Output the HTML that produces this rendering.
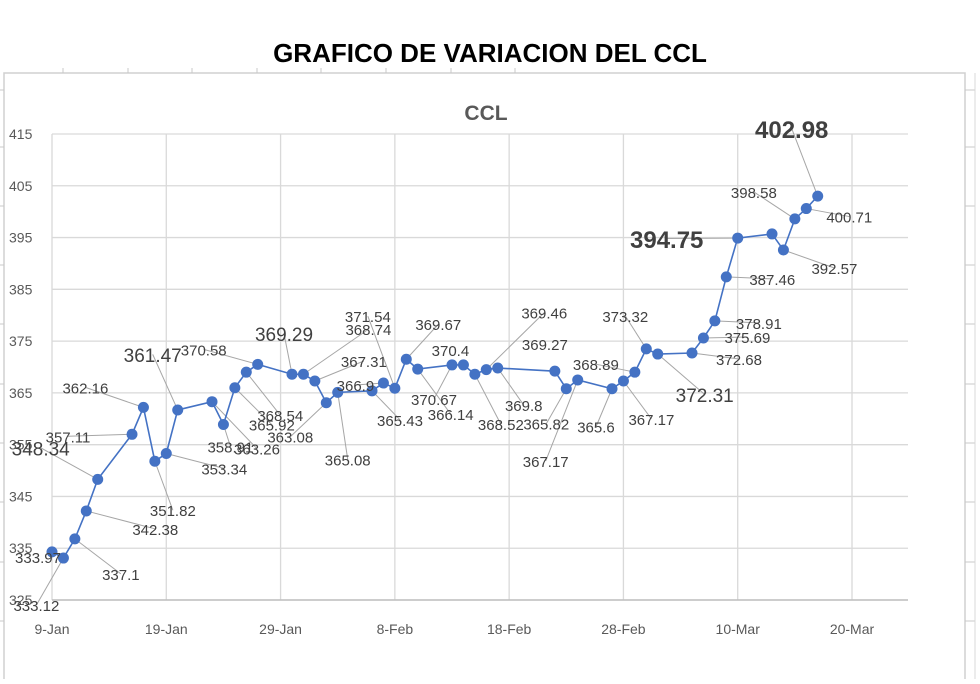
<!DOCTYPE html>
<html><head><meta charset="utf-8"><style>
html,body{margin:0;padding:0;background:#fff;}
body{width:980px;height:679px;overflow:hidden;font-family:"Liberation Sans",sans-serif;}
</style></head><body>
<svg id="chart" width="980" height="679" xmlns="http://www.w3.org/2000/svg" font-family="Liberation Sans, sans-serif">
<g id="frame"></g>
<text x="490" y="62" text-anchor="middle" font-size="26" font-weight="bold" fill="#000">GRAFICO DE VARIACION DEL CCL</text>
<text x="486" y="120" text-anchor="middle" font-size="21" font-weight="bold" fill="#595959">CCL</text>
<g id="grid"></g><g id="axes"></g><g id="leaders"></g><g id="series"></g><g id="labels"></g>
</svg>
<script>
const dates=["2023-01-09","2023-01-10","2023-01-11","2023-01-12","2023-01-13","2023-01-16","2023-01-17","2023-01-18","2023-01-19","2023-01-20","2023-01-23","2023-01-24","2023-01-25","2023-01-26","2023-01-27","2023-01-30","2023-01-31","2023-02-01","2023-02-02","2023-02-03","2023-02-06","2023-02-07","2023-02-08","2023-02-09","2023-02-10","2023-02-13","2023-02-14","2023-02-15","2023-02-16","2023-02-17","2023-02-22","2023-02-23","2023-02-24","2023-02-27","2023-02-28","2023-03-01","2023-03-02","2023-03-03","2023-03-06","2023-03-07","2023-03-08","2023-03-09","2023-03-10","2023-03-13","2023-03-14","2023-03-15","2023-03-16","2023-03-17"];
const values=[334.3,333.1,336.8,342.2,348.3,357.0,362.2,351.8,353.3,361.7,363.3,358.9,366.0,369.0,370.5,368.6,368.6,367.3,363.1,365.1,365.4,366.9,365.9,371.5,369.6,370.4,370.4,368.6,369.5,369.8,369.2,365.8,367.5,365.8,367.3,369.0,373.5,372.5,372.7,375.6,378.9,387.4,394.9,395.7,392.6,398.6,400.6,403.0];
const labelTexts=["333.97","333.12","337.1","342.38","348.34","357.11","362.16","351.82","353.34","361.47","363.26","358.91","365.92","368.54","370.58","369.29","368.74","367.31","363.08","365.08","365.43","366.9","371.54","369.67","366.14","370.67","370.4","368.52","369.46","369.8","369.27","365.82","367.17","365.6","367.17","368.89","373.32","372.31","372.68","375.69","378.91","387.46","394.75","","392.57","398.58","400.71","402.98"];
const labelDx=[-14,-27,46,69,-57,-64,-58,18,58,-25,45,7,37,34,-54,-8,65,49,-36,10,28,-28,-27,32,33,-18,-13,26,58,26,-10,-20,-32,-16,28,-39,-21,47,47,44,44,46,-71,0,51,-41,43,-26];
const labelDy=[11,53,41,24,-24,8,-14,55,21,-48,53,28,43,49,-9,-33,-39,-14,40,73,35,8,-66,-29,51,40,-9,56,-51,43,-21,41,87,44,44,-2,-27,48,12,5,8,8,10,0,24,-21,14,-58];
const bigLabels=[4,9,15,37];
const boldLabels=[42,47];
const yTicks=[325,335,345,355,365,375,385,395,405,415];
const xTickDates=["2023-01-09","2023-01-19","2023-01-29","2023-02-08","2023-02-18","2023-02-28","2023-03-10","2023-03-20"];
const xTickLabels=["9-Jan","19-Jan","29-Jan","8-Feb","18-Feb","28-Feb","10-Mar","20-Mar"];

const NS="http://www.w3.org/2000/svg";
const D0=Date.UTC(2023,0,9), DAY=86400000;
function dayOf(s){const p=s.split("-");return (Date.UTC(+p[0],+p[1]-1,+p[2])-D0)/DAY;}
function X(s){return 52+dayOf(s)*(800/70);}
function Y(v){return 600-(v-325)*(466/90);}
function mk(tag,attrs,parent){const e=document.createElementNS(NS,tag);for(const k in attrs)e.setAttribute(k,attrs[k]);parent.appendChild(e);return e;}

const frame=document.getElementById("frame");
mk("rect",{x:4,y:73,width:961,height:610,fill:"none",stroke:"#d0d0d0","stroke-width":1.5},frame);
[63,128,192,257,321,386,451,515].forEach(x=>mk("line",{x1:x,y1:68,x2:x,y2:73,stroke:"#c8c8c8"},frame));
[90,147,206,265,324,384,443,502,562,621].forEach(y=>{mk("line",{x1:0,y1:y,x2:4,y2:y,stroke:"#c8c8c8"},frame);mk("line",{x1:965,y1:y,x2:975,y2:y,stroke:"#c8c8c8"},frame);});
mk("line",{x1:975,y1:73,x2:975,y2:679,stroke:"#d8d8d8"},frame);

const grid=document.getElementById("grid"), axes=document.getElementById("axes");
yTicks.forEach(v=>{
  const l=mk("line",{x1:52,y1:Y(v),x2:908,y2:Y(v),stroke:"#d9d9d9","stroke-width":1.3},grid);
  
  
  const t=mk("text",{x:9,y:Y(v)+5,"font-size":14,fill:"#595959"},axes);
  t.textContent=String(v);
  
  
});
xTickDates.forEach((d,i)=>{
  const x=X(d);
  const l=mk("line",{x1:x,y1:Y(415),x2:x,y2:Y(325),stroke:"#d9d9d9","stroke-width":1.3},grid);
  
  
  const t=mk("text",{x:x,y:634,"text-anchor":"middle","font-size":14,fill:"#595959"},axes);
  t.textContent=xTickLabels[i];
  
  
});
const ax=mk("line",{x1:52,y1:Y(325),x2:908,y2:Y(325),stroke:"#bfbfbf","stroke-width":1.5},axes);



const series=document.getElementById("series"), labels=document.getElementById("labels"), leaders=document.getElementById("leaders");
const pts=dates.map((d,i)=>[X(d),Y(values[i])]);
const line=mk("polyline",{points:pts.map(p=>p.join(",")).join(" "),fill:"none",stroke:"#4472c4","stroke-width":1.6},series);


pts.forEach((p,i)=>{
  const c=mk("circle",{cx:p[0],cy:p[1],r:5.5,fill:"#4472c4"},series);
  
  
  if(!labelTexts[i])return;
  const lx=p[0]+labelDx[i], ly=p[1]+labelDy[i];
  const big=bigLabels.includes(i), bold=boldLabels.includes(i);
  const fs=bold?24:(big?19:15);
  if(Math.hypot(labelDx[i],labelDy[i])>28){
    const ln=mk("line",{x1:p[0],y1:p[1],x2:lx,y2:ly-fs*0.4,stroke:"#a6a6a6","stroke-width":1},leaders);
    
    
  }
  const t=mk("text",{x:lx,y:ly,"text-anchor":"middle","font-size":fs,"font-weight":bold?"bold":"normal",fill:"#404040"},labels);
  t.textContent=labelTexts[i];
  
  
});
</script>
</body></html>
